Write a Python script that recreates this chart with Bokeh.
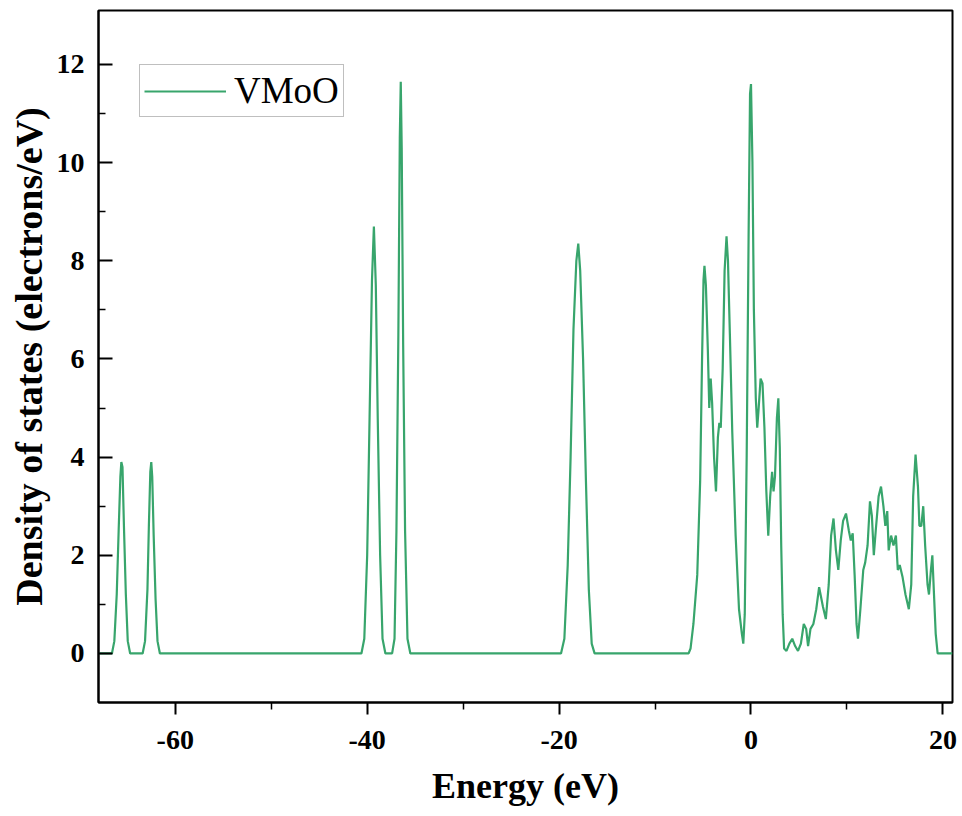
from bokeh.plotting import figure
from bokeh.models import FixedTicker, Range1d, Legend, LegendItem
from bokeh.embed import file_html
from bokeh.resources import INLINE

# ---- data ----
energy = [
    -68.0,
    -66.6, -66.35, -66.1, -65.9, -65.72, -65.62, -65.5, -65.35, -65.15, -64.95, -64.7,
    -63.4, -63.15, -62.9, -62.75, -62.6, -62.5, -62.4, -62.25, -62.05, -61.85, -61.6,
    -40.6, -40.3, -40.0, -39.75, -39.5, -39.3, -39.1, -38.9, -38.65, -38.4, -38.1,
    -37.4, -37.15, -36.95, -36.75, -36.6, -36.5, -36.4, -36.25, -36.05, -35.8, -35.5,
    -19.8, -19.45, -19.1, -18.8, -18.5, -18.2, -18.0, -17.8, -17.5, -17.2, -16.9, -16.6, -16.3,
    -6.5, -6.3, -6.0, -5.6, -5.3, -5.1, -4.95, -4.85, -4.7, -4.5, -4.35, -4.2, -4.05,
    -3.85, -3.65, -3.45, -3.3, -3.15, -2.95, -2.75, -2.55, -2.4, -2.2, -1.95, -1.6,
    -1.25, -0.95, -0.8, -0.65, -0.45, -0.25, -0.1, 0.0, 0.15, 0.3, 0.5, 0.65, 0.8,
    1.0, 1.2, 1.4, 1.6, 1.8, 2.0, 2.2, 2.35, 2.5, 2.7, 2.85, 3.0, 3.15, 3.3, 3.45,
    3.7, 4.0, 4.3, 4.6, 4.9, 5.2, 5.5, 5.75, 5.95, 6.2, 6.5, 6.8, 7.1, 7.3, 7.5,
    7.8, 8.1, 8.35, 8.6, 8.85, 9.1, 9.35, 9.6, 9.9, 10.2, 10.4, 10.6, 10.8, 11.0,
    11.15, 11.4, 11.7, 11.9, 12.15, 12.4, 12.6, 12.8, 13.0, 13.3, 13.55, 13.8, 14.0,
    14.2, 14.35, 14.6, 14.85, 15.1, 15.3, 15.5, 15.8, 16.1, 16.45, 16.7, 16.9, 17.15,
    17.4, 17.55, 17.75, 17.95, 18.15, 18.4, 18.55, 18.75, 18.9, 19.05, 19.25, 19.45,
    21.0,
]
dos = [
    0.0,
    0.0, 0.25, 1.2, 2.5, 3.6, 3.9, 3.8, 2.6, 1.2, 0.25, 0.0,
    0.0, 0.25, 1.3, 2.6, 3.7, 3.9, 3.6, 2.4, 1.1, 0.25, 0.0,
    0.0, 0.3, 2.0, 4.8, 7.6, 8.7, 7.5, 4.8, 2.0, 0.3, 0.0,
    0.0, 0.3, 2.5, 6.5, 10.5, 11.65, 10.3, 6.3, 2.5, 0.3, 0.0,
    0.0, 0.3, 1.8, 4.0, 6.6, 8.0, 8.35, 7.8, 6.0, 3.5, 1.3, 0.2, 0.0,
    0.0, 0.1, 0.6, 1.6, 3.5, 6.0, 7.6, 7.9, 7.5, 6.2, 5.0, 5.6, 5.1,
    4.0, 3.3, 4.4, 4.7, 4.6, 5.8, 7.8, 8.5, 8.0, 6.5, 4.5, 2.4,
    0.9, 0.4, 0.2, 0.8, 4.0, 8.5, 11.4, 11.6, 10.0, 7.0, 5.2, 4.6, 5.0,
    5.6, 5.5, 4.6, 3.3, 2.4, 3.2, 3.7, 3.3, 3.6, 4.8, 5.2, 4.2, 2.2, 0.8, 0.1,
    0.05, 0.2, 0.3, 0.15, 0.05, 0.2, 0.6, 0.5, 0.15, 0.5, 0.6, 0.9, 1.35, 1.15, 0.95,
    0.7, 1.4, 2.4, 2.75, 2.1, 1.7, 2.3, 2.7, 2.85, 2.5, 2.3, 2.45, 1.6, 0.6,
    0.3, 0.9, 1.7, 1.85, 2.2, 3.1, 2.8, 2.0, 2.5, 3.2, 3.4, 3.0, 2.6,
    2.9, 2.1, 2.4, 2.2, 2.4, 1.7, 1.8, 1.55, 1.2, 0.9, 1.4, 3.2, 4.05,
    3.4, 2.6, 2.6, 3.0, 2.2, 1.4, 1.2, 1.7, 2.0, 1.3, 0.4, 0.0,
    0.0,
]
series_name = "VMoO"

x_ticks = [-60, -40, -20, 0, 20]
x_tick_labels = ["-60", "-40", "-20", "0", "20"]
x_minor = [-50, -30, -10, 10]
y_ticks = [0, 2, 4, 6, 8, 10, 12]
y_tick_labels = ["0", "2", "4", "6", "8", "10", "12"]
y_minor = [1, 3, 5, 7, 9, 11]

FONT = "Liberation Serif"
GREEN = "#38a56c"

p = figure(width=962, height=816,
           x_range=Range1d(-68, 21), y_range=Range1d(-1, 13.1),
           output_backend="svg", toolbar_location=None,
           min_border_left=98, min_border_right=10,
           min_border_top=10, min_border_bottom=114)

r = p.line(energy, dos, line_color=GREEN, line_width=2.2)

p.xgrid.visible = False
p.ygrid.visible = False
p.outline_line_color = "black"
p.outline_line_width = 2
p.background_fill_color = "white"
p.border_fill_color = "white"

xa = p.xaxis[0]
xa.ticker = FixedTicker(ticks=x_ticks, minor_ticks=x_minor)
xa.major_label_overrides = {t: l for t, l in zip(x_ticks, x_tick_labels)}
xa.axis_label = "Energy (eV)"
xa.major_tick_in = 0
xa.major_tick_out = 12
xa.minor_tick_in = 0
xa.minor_tick_out = 7

ya = p.yaxis[0]
ya.ticker = FixedTicker(ticks=y_ticks, minor_ticks=y_minor)
ya.major_label_overrides = {t: l for t, l in zip(y_ticks, y_tick_labels)}
ya.axis_label = "Density of states (electrons/eV)"
ya.major_tick_in = 14
ya.major_tick_out = 0
ya.minor_tick_in = 7
ya.minor_tick_out = 0

for ax in (xa, ya):
    ax.axis_line_width = 2
    ax.major_tick_line_width = 2
    ax.minor_tick_line_width = 1.5
    ax.axis_line_color = "black"
    ax.major_tick_line_color = "black"
    ax.minor_tick_line_color = "black"
    ax.major_label_text_font = FONT
    ax.major_label_text_font_style = "bold"
    ax.major_label_text_font_size = "28px"
    ax.major_label_text_color = "black"
    ax.axis_label_text_font = FONT
    ax.axis_label_text_font_style = "bold"
    ax.axis_label_text_color = "black"

xa.axis_label_text_font_size = "36px"
ya.axis_label_text_font_size = "38px"
xa.major_label_standoff = 16
xa.axis_label_standoff = 14
ya.major_label_standoff = 14
ya.axis_label_standoff = 4

legend = Legend(items=[LegendItem(label=series_name, renderers=[r])],
                location=(41, 585))
legend.border_line_color = "#808080"
legend.border_line_width = 1
legend.background_fill_color = "white"
legend.background_fill_alpha = 1
legend.label_text_font = FONT
legend.label_text_font_size = "37px"
legend.label_text_color = "black"
legend.glyph_width = 82
legend.glyph_height = 20
legend.label_standoff = 8
legend.padding = 4
legend.margin = 0
legend.spacing = 0
p.add_layout(legend)

open("out.html", "w").write(file_html(p, INLINE))
